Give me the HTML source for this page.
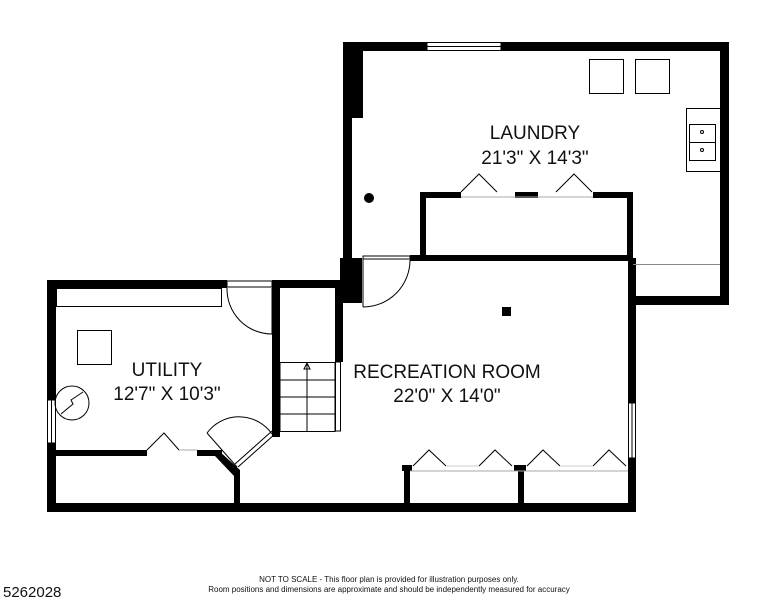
<!DOCTYPE html>
<html><head><style>
body{margin:0;background:#fff;width:776px;height:600px;overflow:hidden;font-family:"Liberation Sans",sans-serif}
svg{position:absolute;left:0;top:0}
</style></head><body>
<svg width="776" height="600" viewBox="0 0 776 600">
<g fill="#000">
<rect x="343" y="42" width="386" height="9"/>
<rect x="343" y="42" width="9" height="218"/>
<rect x="343" y="42" width="20" height="76"/>
<rect x="720" y="42" width="9" height="263"/>
<rect x="628" y="296" width="101" height="9"/>
<rect x="420" y="192" width="6" height="66"/>
<rect x="420" y="192" width="41" height="6"/>
<rect x="515" y="192" width="23" height="6"/>
<rect x="593" y="192" width="40" height="6"/>
<rect x="627" y="192" width="6" height="69"/>
<rect x="410" y="255" width="223" height="6"/>
<rect x="340" y="258" width="22" height="45"/>
<circle cx="369" cy="198" r="5"/>
<rect x="502" y="307" width="9" height="9"/>
<rect x="47" y="280" width="9" height="232"/>
<rect x="47" y="280" width="180" height="8"/>
<rect x="272" y="280" width="71" height="8"/>
<rect x="272" y="280" width="8" height="157"/>
<rect x="335" y="288" width="8" height="74"/>
<rect x="47" y="503" width="589" height="9"/>
<rect x="56" y="450" width="91" height="6"/>
<rect x="197" y="450" width="25" height="6"/>
<polygon points="218,450 240,470 240,476 234,476 215,456"/>
<rect x="234" y="470" width="6" height="35"/>
<rect x="628" y="258" width="8" height="145"/>
<rect x="628" y="458" width="8" height="54"/>
<rect x="404" y="466" width="6" height="40"/>
<rect x="402" y="465" width="10" height="6"/>
<rect x="518" y="466" width="6" height="40"/>
<rect x="514" y="465" width="12" height="6"/>
</g>
<g fill="none" stroke="#000" stroke-width="1">
<rect x="427" y="42.5" width="74" height="8" fill="#fff"/>
<line x1="427" y1="46.5" x2="501" y2="46.5"/>
<rect x="47.5" y="400" width="8" height="43" fill="#fff"/>
<line x1="51.5" y1="400" x2="51.5" y2="443"/>
<rect x="628.5" y="403" width="7" height="55" fill="#fff"/>
<line x1="632" y1="403" x2="632" y2="458"/>
<rect x="589.5" y="59.5" width="34" height="34"/>
<rect x="635.5" y="59.5" width="34" height="34"/>
<rect x="686.5" y="108.5" width="34" height="63"/>
<rect x="689.5" y="124.5" width="26" height="18"/>
<rect x="689.5" y="142.5" width="26" height="18"/>
<circle cx="702" cy="132" r="1.5"/><circle cx="702" cy="150" r="1.5"/>
<line x1="633" y1="264.5" x2="720" y2="264.5" stroke="#888"/>
<polyline points="461,192 479,174 497,192"/>
<polyline points="556,192 574,174 592,192"/>
<line x1="461" y1="197" x2="593" y2="197" stroke="#aaa"/>
<rect x="363" y="256" width="47" height="3" fill="#fff"/>
<line x1="363" y1="259" x2="363" y2="307"/>
<path d="M363,307 A47,47 0 0 0 410,260"/>
<rect x="56.5" y="288.5" width="165" height="18"/>
<rect x="227" y="281" width="45" height="6" fill="#fff"/>
<line x1="272" y1="288" x2="272" y2="334"/>
<path d="M227,288 A45,45 0 0 0 272,334"/>
<rect x="77.5" y="330.5" width="34" height="34"/>
<circle cx="72" cy="403" r="17"/>
<polyline points="61,414 73,404 71,400 83,392"/>
<polyline points="147,450 164,433 179,450"/>
<line x1="179" y1="450" x2="197" y2="450" stroke="#aaa"/>
<line x1="238" y1="467" x2="275" y2="434"/>
<line x1="235" y1="464" x2="272" y2="431"/>
<path d="M207,433 A40,40 0 0 1 272,434"/>
<line x1="207" y1="433" x2="237" y2="467"/>
<rect x="280" y="362.5" width="55" height="69"/>
<line x1="280" y1="380" x2="335" y2="380"/>
<line x1="280" y1="397" x2="335" y2="397"/>
<line x1="280" y1="414" x2="335" y2="414"/>
<line x1="307" y1="364" x2="307" y2="431"/>
<polygon points="304,369 307,363 310,369"/>
<rect x="335.5" y="362" width="5" height="69"/>
<polyline points="413,466 429,450 446,466"/>
<polyline points="479,466 495,450 512,466"/>
<polyline points="527,466 543,450 560,466"/>
<polyline points="593,466 609,450 626,466"/>
<line x1="410" y1="471" x2="628" y2="471" stroke="#aaa"/>
<line x1="446" y1="466" x2="479" y2="466" stroke="#ccc"/>
<line x1="560" y1="466" x2="593" y2="466" stroke="#ccc"/>
</g>
<g font-family="Liberation Sans,sans-serif" fill="#111" text-anchor="middle" font-size="19">
<text x="535" y="139">LAUNDRY</text>
<text x="535" y="164">21'3" X 14'3"</text>
<text x="167" y="376">UTILITY</text>
<text x="167" y="400">12'7" X 10'3"</text>
<text x="447" y="378">RECREATION ROOM</text>
<text x="447" y="402">22'0" X 14'0"</text>
<text x="389" y="582" font-size="8">NOT TO SCALE - This floor plan is provided for illustration purposes only.</text>
<text x="389" y="592" font-size="8">Room positions and dimensions are approximate and should be independently measured for accuracy</text>
<text x="3" y="597" font-size="15" text-anchor="start">5262028</text>
</g>
</svg>
</body></html>
